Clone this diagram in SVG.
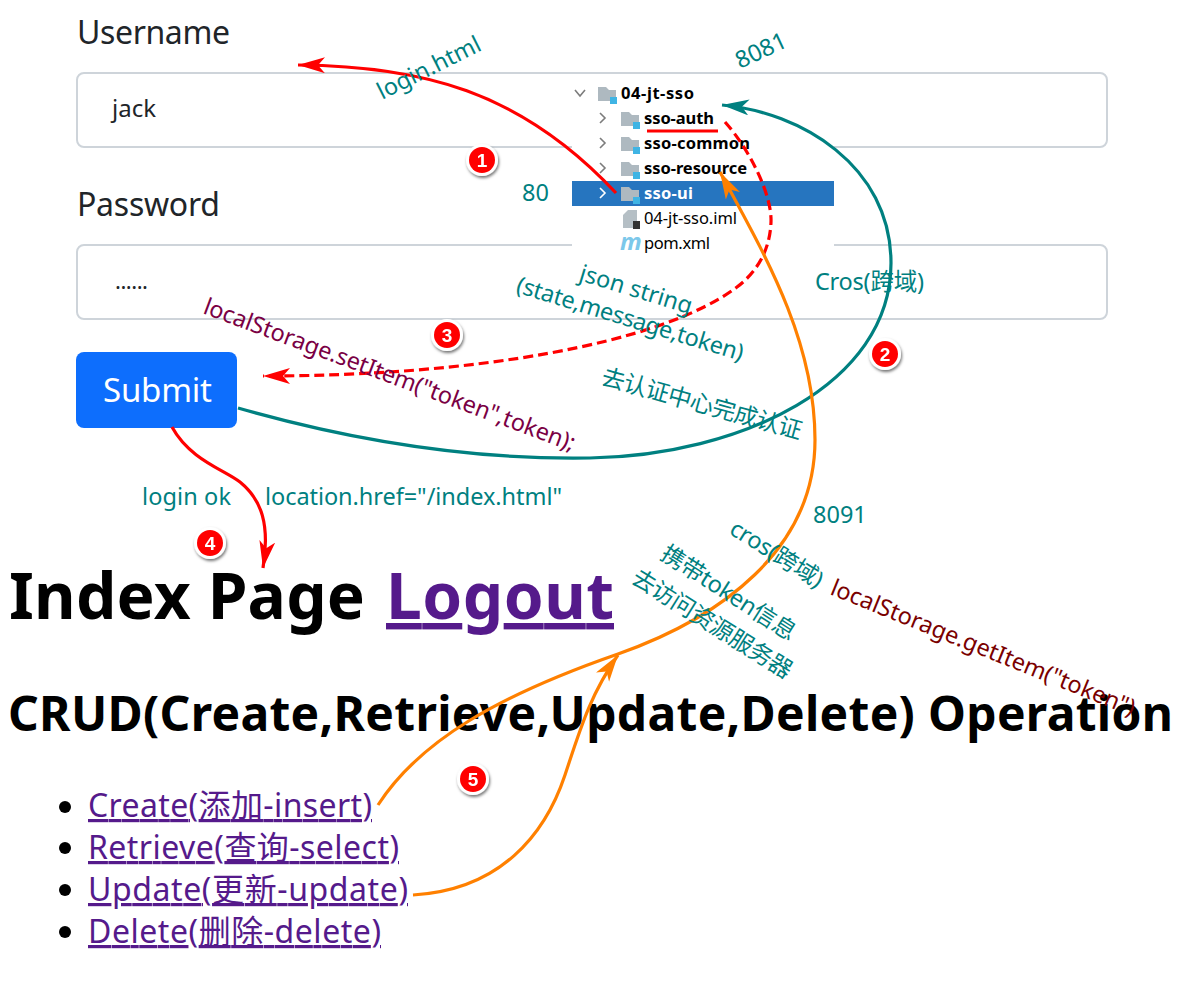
<svg xmlns="http://www.w3.org/2000/svg" width="1184" height="984" viewBox="0 0 1184 984">
<style>
text{font-family:"Noto Sans","Noto Sans CJK SC",sans-serif}
.lbl{font-size:32px;fill:#212529}
.inp{fill:#fff;stroke:#ced4da;stroke-width:2}
.t{fill:#008080;font-size:23.5px}
.m{fill:#7a0044;font-size:23.5px}
.d{fill:#7a0000;font-size:23.5px}
.tree{font-size:16.5px;fill:#000}
.b{font-weight:700}
.h{font-weight:700;fill:#000}
.a{fill:#551a8b;text-decoration:underline;font-size:32px}
.c{fill:none;stroke-width:3.2}
.num{fill:#fff;font-size:19px;font-weight:700;text-anchor:middle;font-family:"Liberation Sans",sans-serif}
.fold{fill:#aeb9c0}
.sq{fill:#3fb4e4}
.chev{fill:none;stroke:#7c7c7c;stroke-width:1.6}
</style>
<defs>
<filter id="sh" x="-30%" y="-30%" width="170%" height="170%"><feDropShadow dx="1" dy="2" stdDeviation="1.5" flood-color="#000" flood-opacity=".55"/></filter>
<marker id="ar" markerUnits="userSpaceOnUse" markerWidth="30" markerHeight="18" refX="27" refY="8" orient="auto"><path d="M27,8 L0,0 L7,8 L0,16Z" fill="#f00"/></marker>
<marker id="at" markerUnits="userSpaceOnUse" markerWidth="30" markerHeight="18" refX="27" refY="8" orient="auto"><path d="M27,8 L0,0 L7,8 L0,16Z" fill="#008080"/></marker>
<marker id="ao" markerUnits="userSpaceOnUse" markerWidth="30" markerHeight="18" refX="27" refY="8" orient="auto"><path d="M27,8 L0,0 L7,8 L0,16Z" fill="#ff8000"/></marker>
<g id="folder"><path class="fold" d="M0,0h8l3,3h7v11h-18z"/><rect class="sq" x="12" y="10" width="7" height="7"/></g>
</defs>
<rect width="1184" height="984" fill="#fff"/>
<g id="username"><text class="lbl" x="77" y="44" textLength="153">Username</text><rect class="inp" x="77" y="73" width="1030" height="74" rx="7"/><text x="112" y="117" style="font-size:24px" fill="#212529">jack</text></g>
<g id="password"><text class="lbl" x="77" y="216" textLength="143">Password</text><rect class="inp" x="77" y="245" width="1030" height="74" rx="7"/><text x="115" y="289" style="font-size:22px" fill="#212529" textLength="33">......</text></g>
<g id="submit"><rect x="76" y="352" width="161" height="76" rx="8" fill="#0d6efd"/><text x="103" y="402" fill="#fff" style="font-size:33px" textLength="109">Submit</text></g>
<g id="tree">
<rect x="572" y="75" width="262" height="181" fill="#fff"/>
<rect x="572" y="181" width="262" height="25" fill="#2675bf"/>
<path class="chev" d="M575,90l5,6l5,-6"/><path class="chev" d="M600,113l5,5l-5,5M600,138l5,5l-5,5M600,163l5,5l-5,5"/><path class="chev" d="M600,188l5,5l-5,5" style="stroke:#fff"/>
<use href="#folder" x="598" y="87"/><use href="#folder" x="621" y="112"/><use href="#folder" x="621" y="137"/><use href="#folder" x="621" y="162"/><use href="#folder" x="621" y="187"/>
<text class="tree b" x="621" y="99" textLength="73">04-jt-sso</text><text class="tree b" x="644" y="124" textLength="70">sso-auth</text><text class="tree b" x="644" y="149" textLength="106">sso-common</text><text class="tree b" x="644" y="174" textLength="103">sso-resource</text><text class="tree b" x="644" y="199" style="fill:#fff" textLength="49">sso-ui</text>
<text class="tree" x="644" y="224" textLength="93">04-jt-sso.iml</text><text class="tree" x="644" y="249" textLength="66">pom.xml</text>
<path d="M623,215l5,-5h9v18h-14z" fill="#b5bfc5"/><rect x="633" y="221" width="7" height="8" fill="#333"/>
<text x="620" y="250" style="font-size:24px;font-style:italic;font-weight:700" fill="#7cc8ea" textLength="18">m</text>
</g>
<g id="headings">
<text class="h" x="9" y="619" style="font-size:64px" textLength="356">Index Page</text><text class="h" x="386" y="619" style="font-size:64px;fill:#551a8b;text-decoration:underline" textLength="228">Logout</text>
<text class="h" x="8" y="731" style="font-size:48px" textLength="1165">CRUD(Create,Retrieve,Update,Delete) Operation</text>
</g>
<g id="list">
<circle cx="65" cy="807" r="6"/><circle cx="65" cy="848" r="6"/><circle cx="65" cy="890" r="6"/><circle cx="65" cy="932" r="6"/>
<text class="a" x="88" y="817" textLength="284">Create(添加-insert)</text><text class="a" x="88" y="859" textLength="311">Retrieve(查询-select)</text><text class="a" x="88" y="901" textLength="320">Update(更新-update)</text><text class="a" x="88" y="943" textLength="293">Delete(删除-delete)</text>
</g>
<g id="connectors">
<path class="c" stroke="#f00" marker-end="url(#ar)" d="M616,193C520,90 420,66 298,65"/>
<path class="c" stroke="#008080" marker-end="url(#at)" d="M238,408C350,440 470,460 590,458C740,455.5 891,385 891,263C891,165 800,112 722,105"/>
<path class="c" stroke="#f00" stroke-dasharray="10 5" marker-end="url(#ar)" d="M725,122C750,150 772,195 771,222C770,250 757,272 737,287C660,345 470,376 263,376"/>
<path class="c" stroke="#ff8000" marker-end="url(#ao)" d="M378,805C420,740 500,695 618,654C720,618 815,550 815,440C815,340 765,255 720,172"/>
<path class="c" stroke="#ff8000" marker-end="url(#ao)" d="M413,895C500,890 545,835 565,775C580,730 590,695 618,655"/>
<path class="c" stroke="#f00" marker-end="url(#ar)" d="M172,427C190,460 225,470 240,482C262,500 270,525 263,568"/>
<path d="M647,131H718" stroke="#f00" stroke-width="3" fill="none"/>
</g>
<g id="labels">
<text class="t" transform="translate(382,100) rotate(-26.5)">login.html</text>
<text class="t" transform="translate(740,69) rotate(-25)">8081</text>
<text class="t" x="522" y="201">80</text>
<text class="t" transform="translate(578,280) rotate(17)">json string</text>
<text class="t" transform="translate(515,292) rotate(17)" textLength="236">(state,message,token)</text>
<text class="t" x="815" y="290" textLength="109">Cros(跨域)</text>
<text class="t" transform="translate(600,384) rotate(15.5)" textLength="207">去认证中心完成认证</text>
<text class="m" transform="translate(202,313) rotate(20.5)" textLength="395">localStorage.setItem("token",token);</text>
<text class="t" x="142" y="505" textLength="89">login ok</text>
<text class="t" x="265" y="505" textLength="297">location.href="/index.html"</text>
<text class="t" x="813" y="523">8091</text>
<text class="t" transform="translate(728,533) rotate(32)" textLength="105">cros(跨域)</text>
<text class="t" transform="translate(659,558) rotate(32.5)" textLength="155">携带token信息</text>
<text class="t" transform="translate(630,582) rotate(32)" textLength="184">去访问资源服务器</text>
<text class="d" transform="translate(829,594) rotate(22)" textLength="326">localStorage.getItem("token")</text>
</g>
<g id="n1" filter="url(#sh)"><circle cx="482" cy="160" r="16" fill="#fff"/><circle cx="482" cy="160" r="13" fill="#f00"/><text class="num" x="482" y="167">1</text></g>
<g id="n2" filter="url(#sh)"><circle cx="885" cy="354" r="16" fill="#fff"/><circle cx="885" cy="354" r="13" fill="#f00"/><text class="num" x="885" y="361">2</text></g>
<g id="n3" filter="url(#sh)"><circle cx="447" cy="335" r="16" fill="#fff"/><circle cx="447" cy="335" r="13" fill="#f00"/><text class="num" x="447" y="342">3</text></g>
<g id="n4" filter="url(#sh)"><circle cx="210" cy="543" r="16" fill="#fff"/><circle cx="210" cy="543" r="13" fill="#f00"/><text class="num" x="210" y="550">4</text></g>
<g id="n5" filter="url(#sh)"><circle cx="473" cy="779" r="16" fill="#fff"/><circle cx="473" cy="779" r="13" fill="#f00"/><text class="num" x="473" y="786">5</text></g>
</svg>
